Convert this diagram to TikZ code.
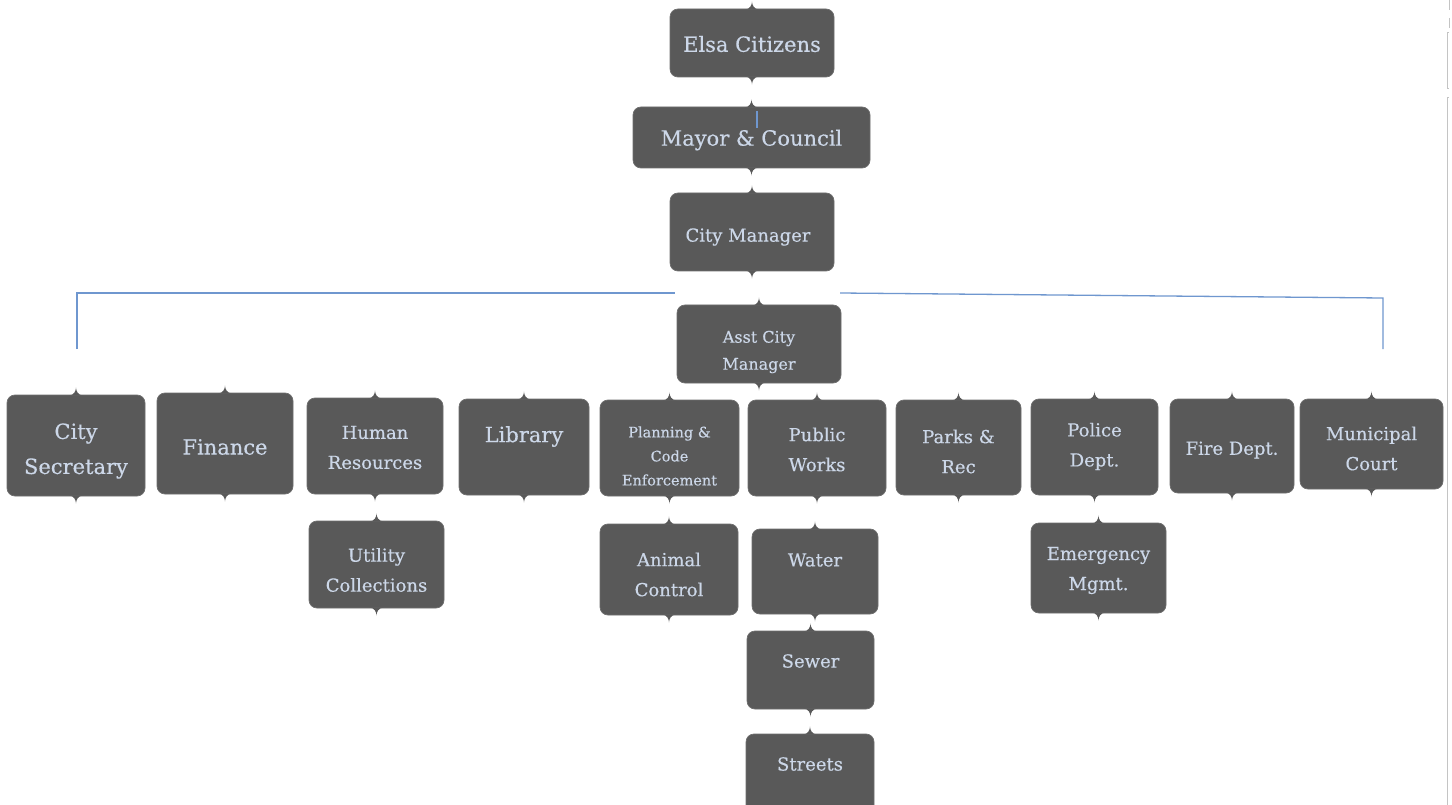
\documentclass[tikz,border=0pt]{standalone}
\usepackage{fontspec}
\usetikzlibrary{calc}
\setmainfont[FakeBold=0.35]{DejaVu Serif}
\newcommand\fsz[2]{\fontsize{#1}{#2}\selectfont}
\definecolor{boxgray}{HTML}{595959}
\definecolor{boxedge}{HTML}{6E6E6E}
\definecolor{txtcol}{HTML}{CCD7E8}
\definecolor{lineblue}{HTML}{6F97CF}
\definecolor{edgegray}{HTML}{C4C4C4}
\begin{document}
\begin{tikzpicture}[x=1pt,y=-1pt,
  box/.style={fill=boxgray,draw=boxedge,line width=0.7pt,rounded corners=8pt,inner sep=0pt},
  lbl/.style={text=txtcol,align=center,inner sep=0pt},
  blueline/.style={draw=lineblue,line width=1.3pt},
  edgeline/.style={draw=edgegray,line width=1pt}]
\useasboundingbox (0,0) rectangle (1452,805);
\fill[white] (0,0) rectangle (1452,805);

% boxes
\node[box,minimum width=164pt,minimum height=68pt] (cit) at (752,43) {};
\node[box,minimum width=237pt,minimum height=61pt] (mayor) at (751.5,137.5) {};
\node[box,minimum width=164pt,minimum height=78pt] (cm) at (752,232) {};
\node[box,minimum width=164pt,minimum height=78pt] (acm) at (759,344) {};
\node[box,minimum width=138pt,minimum height=101pt] (cs) at (76,445.5) {};
\node[box,minimum width=136pt,minimum height=101pt] (fin) at (225,443.5) {};
\node[box,minimum width=136pt,minimum height=96pt] (hr) at (375,446) {};
\node[box,minimum width=130pt,minimum height=96pt] (lib) at (524,447) {};
\node[box,minimum width=139pt,minimum height=96pt] (plan) at (669.5,448) {};
\node[box,minimum width=138pt,minimum height=96pt] (pw) at (817,448) {};
\node[box,minimum width=125pt,minimum height=95pt] (parks) at (958.5,447.5) {};
\node[box,minimum width=127pt,minimum height=96pt] (police) at (1094.5,447) {};
\node[box,minimum width=124pt,minimum height=94pt] (fire) at (1232,446) {};
\node[box,minimum width=143pt,minimum height=90pt] (muni) at (1371.5,444) {};
\node[box,minimum width=135pt,minimum height=87pt] (util) at (376.5,564.5) {};
\node[box,minimum width=138pt,minimum height=91pt] (animal) at (669,569.5) {};
\node[box,minimum width=126pt,minimum height=85pt] (water) at (815,571.5) {};
\node[box,minimum width=135pt,minimum height=90pt] (emerg) at (1098.5,568) {};
\node[box,minimum width=127pt,minimum height=78pt] (sewer) at (810.5,670) {};
\node[box,minimum width=128pt,minimum height=81pt] (streets) at (810,774.5) {};

% peaks
\foreach \n in {cit,mayor,cm,acm,cs,fin,hr,lib,plan,pw,parks,police,fire,muni,util,animal,water,emerg,sewer,streets}{
  \fill[boxgray] (\n.north) ++(-7,0.8) .. controls +(5,0) and +(0,3) .. ++(7,-7.8)
     .. controls +(0,3) and +(-5,0) .. ++(7,7.8) -- cycle;
  \fill[boxgray] (\n.south) ++(-7,-0.8) .. controls +(5,0) and +(0,-3) .. ++(7,7.8)
     .. controls +(0,-3) and +(-5,0) .. ++(7,-7.8) -- cycle;
}

% labels
\node[lbl,font=\fsz{21}{35}] (citL) at (752,44) {Elsa Citizens};
\node[lbl,font=\fsz{21}{35}] (mayorL) at (751.5,140) {Mayor \& Council};
\node[lbl,font=\fsz{18}{30}] (cmL) at (748,237) {City Manager};
\node[lbl,font=\fsz{16}{27}] (acmL) at (759,352) {Asst City\\Manager};
\node[lbl,font=\fsz{21}{35}] (csL) at (76,451) {City\\Secretary};
\node[lbl,font=\fsz{21}{35}] (finL) at (225,447) {Finance};
\node[lbl,font=\fsz{18}{30}] (hrL) at (375,447.5) {Human\\Resources};
\node[lbl,font=\fsz{21}{35}] (libL) at (524,436.5) {Library};
\node[lbl,font=\fsz{14.5}{24}] (planL) at (669.5,456) {Planning \&\\Code\\Enforcement};
\node[lbl,font=\fsz{18}{30}] (pwL) at (817,449.5) {Public\\Works};
\node[lbl,font=\fsz{18}{30}] (parksL) at (958.5,451.5) {Parks \&\\Rec};
\node[lbl,font=\fsz{18}{30}] (policeL) at (1094.5,446.5) {Police\\Dept.};
\node[lbl,font=\fsz{18}{30}] (fireL) at (1232,450) {Fire Dept.};
\node[lbl,font=\fsz{18}{30}] (muniL) at (1371.5,448.5) {Municipal\\Court};
\node[lbl,font=\fsz{18}{30}] (utilL) at (376.5,570) {Utility\\Collections};
\node[lbl,font=\fsz{18}{30}] (animalL) at (669,574.5) {Animal\\Control};
\node[lbl,font=\fsz{18}{30}] (waterL) at (815,560) {Water};
\node[lbl,font=\fsz{18}{30}] (emergL) at (1098.5,570.5) {Emergency\\Mgmt.};
\node[lbl,font=\fsz{18}{30}] (sewerL) at (810.5,661) {Sewer};
\node[lbl,font=\fsz{18}{30}] (streetsL) at (810,764) {Streets};

% blue connector lines
\coordinate (bl1) at (77,349);
\coordinate (bl2) at (77,293);
\coordinate (bl3) at (675,293);
\coordinate (br1) at (840,293);
\coordinate (br2) at (1383,298);
\coordinate (br3) at (1383,349);
\draw[blueline] (bl1) -- (bl2) -- (bl3);
\draw[blueline] (br1) -- (br2) -- (br3);
\coordinate (mt1) at (757,111);
\coordinate (mt2) at (757,128);
\draw[draw=lineblue,line width=1.2pt] (mt1) -- (mt2);

% page edge marks at right
\coordinate (e1) at (1449,0);
\coordinate (e2) at (1449,10);
\coordinate (e3) at (1449,18);
\coordinate (e4) at (1449,28);
\coordinate (e5) at (1447,33);
\coordinate (e6) at (1447,89);
\coordinate (e7) at (1447,98);
\coordinate (e8) at (1447,805);
\draw[edgeline] ($(e5)+(2,0)$) -- (e5) -- (e6) -- ($(e6)+(2,0)$);
\draw[edgeline] (e1) -- (e2);
\draw[edgeline] (e3) -- (e4);
\draw[edgeline] ($(e7)+(2,0)$) -- (e7) -- (e8);
\end{tikzpicture}
\end{document}
